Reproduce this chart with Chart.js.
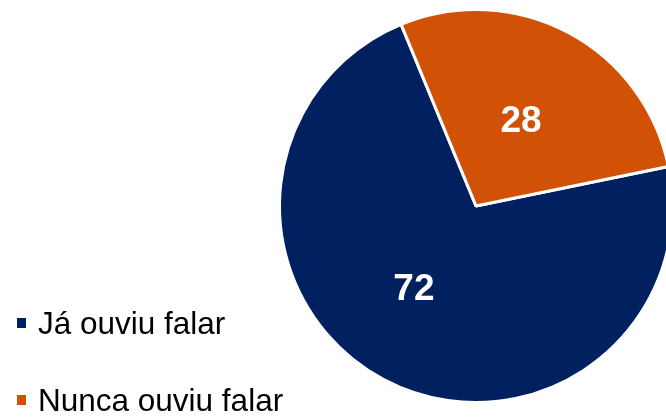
<!DOCTYPE html>
<html>
<head>
<meta charset="utf-8">
<script src="https://cdn.jsdelivr.net/npm/chart.js@4.4.1/dist/chart.umd.min.js"></script>
<style>
  html, body { margin: 0; padding: 0; background: #fff; overflow: hidden; }
  #wrap { position: relative; width: 680px; height: 418px; }
</style>
</head>
<body>
<div id="wrap"><canvas id="pieChart"></canvas></div>
<script>
const categories = ["Já ouviu falar", "Nunca ouviu falar"];
const values = [72, 28];
const colors = ["#002060", "#D15106"];

// white numbers inside each slice
const sliceLabels = {
  id: "sliceLabels",
  afterDatasetsDraw(chart, args, opts) {
    const ctx = chart.ctx;
    const meta = chart.getDatasetMeta(0);
    ctx.save();
    ctx.fillStyle = "#fff";
    ctx.font = "bold 37px 'Liberation Sans', Arial, sans-serif";
    ctx.textAlign = "center";
    ctx.textBaseline = "middle";
    meta.data.forEach((arc, i) => {
      const p = arc.getProps(["x", "y", "startAngle", "endAngle", "outerRadius"], true);
      const mid = (p.startAngle + p.endAngle) / 2;
      const r = p.outerRadius * 0.51;
      const nudge = opts.nudge[i] || [0, 0];
      ctx.fillText(String(values[i]), p.x + Math.cos(mid) * r + nudge[0], p.y + Math.sin(mid) * r + nudge[1]);
    });
    ctx.restore();
  }
};

// legend stacked in the lower left
const sideLegend = {
  id: "sideLegend",
  afterDraw(chart) {
    const ctx = chart.ctx;
    ctx.save();
    ctx.font = "31.5px 'Liberation Sans', Arial, sans-serif";
    ctx.textBaseline = "alphabetic";
    ctx.textAlign = "left";
    categories.forEach((name, i) => {
      const y = 334 + i * 77;
      ctx.fillStyle = colors[i];
      ctx.fillRect(17, y - 16, 9, 10);
      ctx.fillStyle = "#000";
      ctx.fillText(name, 38, y);
    });
    ctx.restore();
  }
};

new Chart(document.getElementById("pieChart"), {
  type: "pie",
  data: {
    labels: categories,
    datasets: [{
      data: values,
      backgroundColor: colors,
      borderColor: "#fff",
      borderWidth: 3
    }]
  },
  options: {
    responsive: true,
    maintainAspectRatio: false,
    animation: false,
    rotation: 78.4,
    layout: { padding: { left: 278, right: 6, top: 8, bottom: 14 } },
    plugins: {
      legend: { display: false },
      tooltip: { enabled: false },
      sliceLabels: { nudge: [[-15, -5], [-2, 4]] }
    }
  },
  plugins: [sliceLabels, sideLegend]
});
</script>
</body>
</html>
